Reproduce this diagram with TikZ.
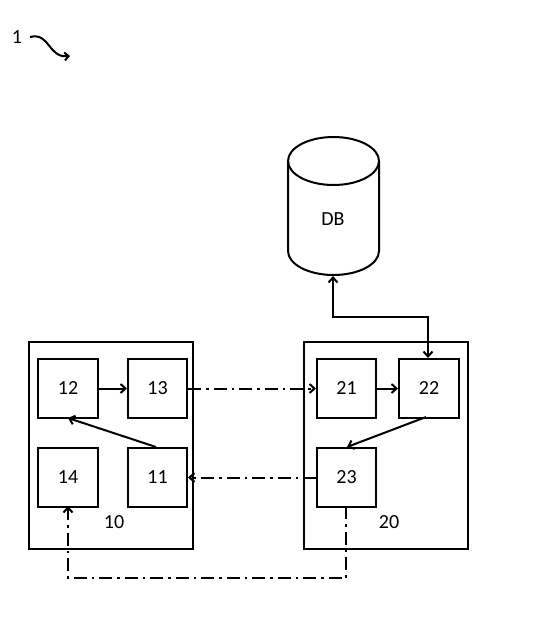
\documentclass[tikz,border=0pt]{standalone}
\usepackage{fontspec}
\setmainfont{Carlito}
\usetikzlibrary{arrows.meta}
\begin{document}
\begin{tikzpicture}[x=1pt,y=-1pt,
  box/.style={draw,line width=2pt,inner sep=0pt,anchor=north west},
  lbl/.style={font=\fontsize{20}{22}\selectfont},
  conn/.style={line width=2pt,-{Straight Barb[length=5pt,width=9pt]}},
  dd/.style={line width=2pt,dash pattern=on 13pt off 5pt on 2.5pt off 5pt,-{Straight Barb[length=5pt,width=9pt]}}]
\useasboundingbox (0,0) rectangle (540,624);
% outer boxes
\node[box,minimum width=164pt,minimum height=207pt] (b10) at (28,341) {};
\node[box,minimum width=164pt,minimum height=207pt] (b20) at (303,341) {};
\node[lbl] (l10) at (114,522) {10};
\node[lbl] (l20) at (389,522) {20};
% inner boxes
\node[box,minimum width=60pt,minimum height=59pt] (n12) at (37,358) {};
\node[box,minimum width=59pt,minimum height=59pt] (n13) at (127,358) {};
\node[box,minimum width=60pt,minimum height=59pt] (n14) at (37,447) {};
\node[box,minimum width=59pt,minimum height=59pt] (n11) at (127,447) {};
\node[box,minimum width=59pt,minimum height=59pt] (n21) at (316,358) {};
\node[box,minimum width=60pt,minimum height=59pt] (n22) at (398,358) {};
\node[box,minimum width=59pt,minimum height=59pt] (n23) at (316,447) {};
\node[lbl] at (n12.center) {12};
\node[lbl] at (n13.center) {13};
\node[lbl] at (n14.center) {14};
\node[lbl] at (n11.center) {11};
\node[lbl] at (n21.center) {21};
\node[lbl] at (n22.center) {22};
\node[lbl] at (n23.center) {23};
% DB cylinder
\draw[line width=2pt] (288,161) -- (288,251) arc[start angle=180,end angle=360,x radius=45.5,y radius=-24] -- (379,161);
\draw[line width=2pt] (333.5,161) ellipse[x radius=45.5,y radius=24];
\coordinate (dbb) at (333,276);
\node[lbl] (db) at (333,219) {DB};
% solid arrows
\draw[conn] (n12.east) -- (n13.west);
\draw[conn] (n21.east) -- (n22.west);
\draw[conn] (156,447) -- (68,418);
\draw[conn] (426,417) -- (347,447);
\coordinate (c1) at (333,317);
\coordinate (c2) at (428,317);
\draw[line width=2pt,{Straight Barb[length=5pt,width=9pt]}-{Straight Barb[length=5pt,width=9pt]}] (dbb) -- (c1) -- (c2) -- (428,358);
% dash-dot
\draw[dd] (n13.east) -- (n21.west);
\draw[dd] (n23.west) -- (n11.east);
\coordinate (d1) at (346,578);
\coordinate (d2) at (68,578);
\draw[dd] (346,506) -- (d1) -- (d2) -- (68,506);
% label 1
\node[lbl] (one) at (17,37) {1};
\coordinate (sq) at (70,56);
\draw[line width=2pt,-{Straight Barb[length=4pt,width=8pt]}] (30,37) .. controls (50,32) and (48,58) .. (sq);
\end{tikzpicture}
\end{document}
